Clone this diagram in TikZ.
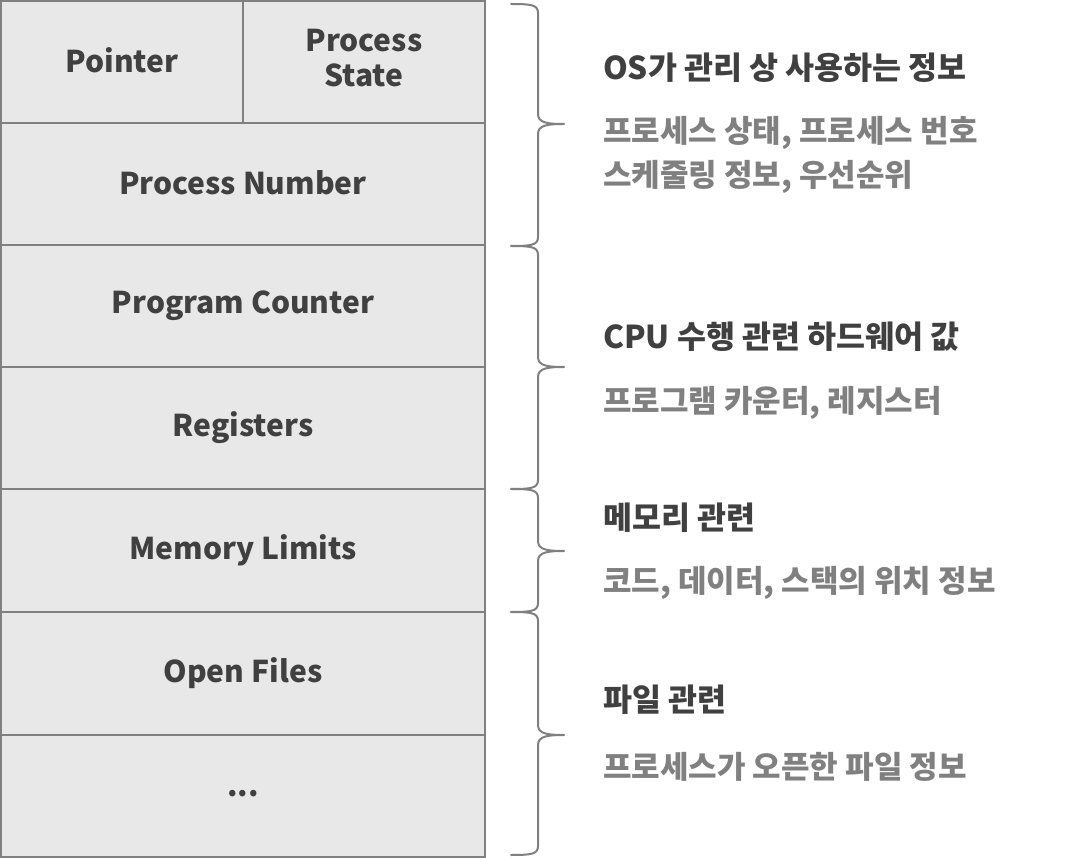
\documentclass[tikz,border=0pt]{standalone}
\usepackage{fontspec}
\setmainfont{Noto Sans CJK KR}
\definecolor{cellfill}{HTML}{E8E8E8}
\definecolor{cellline}{HTML}{808080}
\definecolor{darktext}{HTML}{404040}
\definecolor{graytext}{HTML}{808080}
\tikzset{
  cell/.style={draw=cellline, line width=2pt, fill=cellfill, inner sep=0pt,
    font=\fontsize{30}{34}\selectfont\bfseries, text=darktext, align=center},
  heading/.style={anchor=west, inner sep=0pt, font=\fontsize{31.5}{44}\selectfont\bfseries, text=darktext},
  subtext/.style={anchor=west, inner sep=0pt, font=\fontsize{31}{44}\selectfont\bfseries, text=graytext, align=left},
  bracestyle/.style={draw=cellline, line width=2pt, line cap=round, line join=round}
}
\newcommand\mybrace[3]{%
  \draw[bracestyle] (511,#1) .. controls (532,#1) and (538,#1+1) .. (538,#1+9)
    -- (538,#3-10) .. controls (538,#3-1) and (548,#3) .. (564,#3)
    .. controls (548,#3) and (538,#3+1) .. (538,#3+10)
    -- (538,#2-9) .. controls (538,#2-1) and (532,#2) .. (511,#2);}
\begin{document}
\begin{tikzpicture}[x=1pt,y=-1pt]
\useasboundingbox (0,0) rectangle (1074,858);
% table cells
\node[cell, minimum width=242pt, minimum height=122pt] (ptr) at (122,62) {\raisebox{4pt}{Pointer}};
\node[cell, minimum width=242pt, minimum height=122pt] (state) at (364,62) {\raisebox{3pt}{\begin{tabular}{@{}c@{}}Process\\[1pt]State\end{tabular}}};
\node[cell, minimum width=484pt, minimum height=122pt] (pnum) at (243,184) {\raisebox{2pt}{Process Number}};
\node[cell, minimum width=484pt, minimum height=122pt] (pc) at (243,306) {Program Counter};
\node[cell, minimum width=484pt, minimum height=122pt] (reg) at (243,428) {Registers};
\node[cell, minimum width=484pt, minimum height=123pt] (mem) at (243,550.5) {Memory Limits};
\node[cell, minimum width=484pt, minimum height=123pt] (files) at (243,673.5) {Open Files};
\node[cell, minimum width=484pt, minimum height=122pt] (etc) at (243,796) {\raisebox{6pt}{...}};
% braces
\mybrace{4}{246}{124}
\mybrace{246}{489}{367}
\mybrace{489}{612}{551}
\mybrace{612}{855}{735}
% descriptions
\node[heading] (h1) at (603,68) {OS가 관리 상 사용하는 정보};
\node[subtext] (s1) at (603,155) {프로세스 상태, 프로세스 번호\\스케줄링 정보, 우선순위};
\node[heading] (h2) at (603,337) {CPU 수행 관련 하드웨어 값};
\node[subtext] (s2) at (603,403) {프로그램 카운터, 레지스터};
\node[heading] (h3) at (603,518) {메모리 관련};
\node[subtext] (s3) at (603,583) {코드, 데이터, 스택의 위치 정보};
\node[heading] (h4) at (603,700) {파일 관련};
\node[subtext] (s4) at (603,767) {프로세스가 오픈한 파일 정보};
\end{tikzpicture}
\end{document}
